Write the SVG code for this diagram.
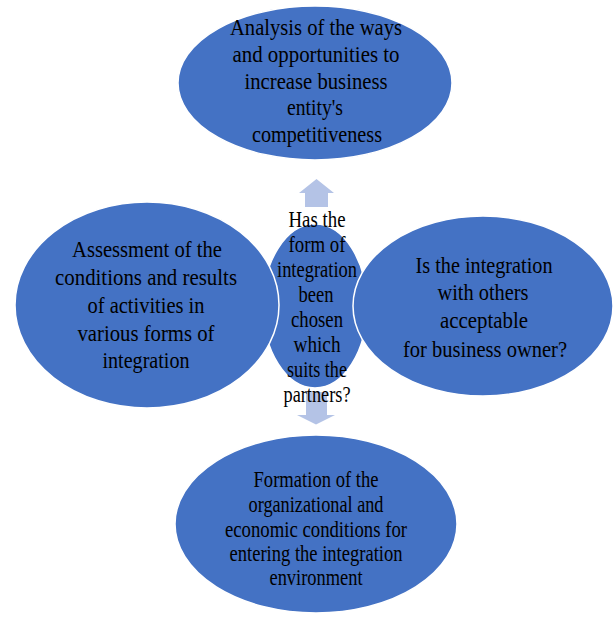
<svg xmlns="http://www.w3.org/2000/svg" width="614" height="620" viewBox="0 0 614 620">
  <style>
    .node { fill: #4472C4; stroke: #FFFFFF; stroke-width: 1.5; }
    .arrow { fill: #B4C3E6; stroke: none; }
    text { font-family: "Liberation Serif", "Times New Roman", serif; font-size: 24px; fill: #000000; text-anchor: middle; }
  </style>
  <rect x="0" y="0" width="614" height="620" fill="#FFFFFF"/>

  <g id="node-top">
    <ellipse class="node" cx="315" cy="83" rx="137" ry="77"/>
    <text x="316" y="35" textLength="172" lengthAdjust="spacingAndGlyphs">Analysis of the ways</text>
    <text x="316" y="62" textLength="167" lengthAdjust="spacingAndGlyphs">and opportunities to</text>
    <text x="316" y="89" textLength="143" lengthAdjust="spacingAndGlyphs">increase business</text>
    <text x="315" y="115" textLength="56" lengthAdjust="spacingAndGlyphs">entity's</text>
    <text x="317" y="142" textLength="130" lengthAdjust="spacingAndGlyphs">competitiveness</text>
  </g>

  <g id="node-center">
    <ellipse class="node" cx="315" cy="306" rx="52" ry="82"/>
  </g>

  <g id="node-left">
    <ellipse class="node" cx="147" cy="305" rx="132" ry="103"/>
    <text x="147" y="257" textLength="150" lengthAdjust="spacingAndGlyphs">Assessment of the</text>
    <text x="146" y="285" textLength="182" lengthAdjust="spacingAndGlyphs">conditions and results</text>
    <text x="146" y="313" textLength="117" lengthAdjust="spacingAndGlyphs">of activities  in</text>
    <text x="146" y="341" textLength="137" lengthAdjust="spacingAndGlyphs">various  forms of</text>
    <text x="146" y="368" textLength="87" lengthAdjust="spacingAndGlyphs">integration</text>
  </g>

  <g id="node-right">
    <ellipse class="node" cx="483" cy="306" rx="130" ry="90"/>
    <text x="484" y="273" textLength="137" lengthAdjust="spacingAndGlyphs">Is the integration</text>
    <text x="483" y="300" textLength="91" lengthAdjust="spacingAndGlyphs">with others</text>
    <text x="484" y="328" textLength="88" lengthAdjust="spacingAndGlyphs">acceptable</text>
    <text x="485" y="357" textLength="164" lengthAdjust="spacingAndGlyphs">for business owner?</text>
  </g>

  <g id="node-bottom">
    <ellipse class="node" cx="316" cy="524" rx="141" ry="89"/>
    <text x="316" y="487" textLength="125" lengthAdjust="spacingAndGlyphs">Formation of the</text>
    <text x="316" y="512" textLength="135" lengthAdjust="spacingAndGlyphs">organizational and</text>
    <text x="316" y="537" textLength="182" lengthAdjust="spacingAndGlyphs">economic conditions for</text>
    <text x="316" y="561" textLength="173" lengthAdjust="spacingAndGlyphs">entering the integration</text>
    <text x="316" y="585" textLength="93" lengthAdjust="spacingAndGlyphs">environment</text>
  </g>

  <g id="connectors">
    <polygon class="arrow" points="316.5,179 334,193 328,193 328,207 305,207 305,193 299,193"/>
    <polygon class="arrow" points="306,392 327,392 327,415 335,415 316,424.5 297,415 306,415"/>
  </g>

  <g id="node-center-label">
    <text x="317" y="227" textLength="57" lengthAdjust="spacingAndGlyphs">Has the</text>
    <text x="317" y="252" textLength="57" lengthAdjust="spacingAndGlyphs">form of</text>
    <text x="317" y="277" textLength="80" lengthAdjust="spacingAndGlyphs">integration</text>
    <text x="316" y="302" textLength="35" lengthAdjust="spacingAndGlyphs">been</text>
    <text x="317" y="327" textLength="52" lengthAdjust="spacingAndGlyphs">chosen</text>
    <text x="317" y="352" textLength="47" lengthAdjust="spacingAndGlyphs">which</text>
    <text x="317" y="377" textLength="60" lengthAdjust="spacingAndGlyphs">suits the</text>
    <text x="317" y="402" textLength="67" lengthAdjust="spacingAndGlyphs">partners?</text>
  </g>
</svg>
